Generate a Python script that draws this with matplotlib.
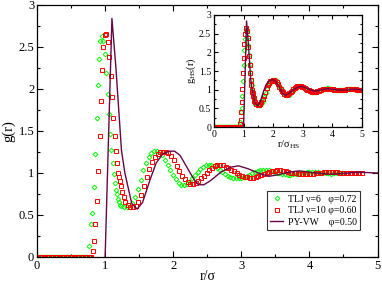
import matplotlib
matplotlib.use("agg")
import matplotlib.pyplot as plt
from matplotlib.ticker import MultipleLocator, FuncFormatter
import numpy as np

plt.rcParams['font.family'] = ['Liberation Serif', 'DejaVu Serif']
plt.rcParams['mathtext.fontset'] = 'custom'
plt.rcParams['mathtext.rm'] = 'Liberation Serif'
plt.rcParams['mathtext.it'] = 'Liberation Serif:italic'

# ---- TLJ nu=6, phi=0.72 (green diamonds) ----
green_zero_end = 0.76
green_r_peak = [0.77, 0.794, 0.814, 0.838, 0.858, 0.875, 0.89, 0.91, 0.93, 0.951,
                0.975, 0.995, 1.015, 1.035, 1.054, 1.072, 1.093, 1.113, 1.132, 1.152,
                1.167, 1.18, 1.19, 1.20, 1.22]
green_g_peak = [0.13, 0.39, 0.52, 0.83, 1.23, 1.65, 2.05, 2.36, 2.57, 2.63,
                2.57, 2.42, 2.19, 1.94, 1.70, 1.47, 1.27, 1.115, 0.99, 0.885,
                0.80, 0.745, 0.69, 0.66, 0.62]
green_tail_start = 1.24
green_g_tail = [0.61, 0.595, 0.59, 0.60, 0.64, 0.71, 0.81, 0.92, 1.03, 1.12,
                1.19, 1.235, 1.26, 1.265, 1.255, 1.22, 1.16, 1.10, 1.04, 0.98,
                0.925, 0.885, 0.86, 0.855, 0.87, 0.895, 0.935, 0.975, 1.015, 1.05,
                1.075, 1.09, 1.095, 1.09, 1.08, 1.06, 1.04, 1.015, 0.99, 0.97,
                0.955, 0.945, 0.94, 0.94, 0.945, 0.955, 0.965, 0.98, 0.995, 1.01,
                1.02, 1.03, 1.035, 1.035, 1.03, 1.025, 1.015, 1.005, 0.995, 0.99,
                0.985, 0.98, 0.98, 0.985, 0.99, 0.995, 1.0, 1.005, 1.01, 1.015,
                1.015, 1.015, 1.01, 1.005, 1.0, 0.995, 0.995, 0.99, 0.995, 0.995,
                1.0, 1.0]

# ---- TLJ nu=10, phi=0.60 (red squares) ----
red_zero_end = 0.80
red_r_peak = [0.819, 0.838, 0.858, 0.877, 0.895, 0.918, 0.937, 0.956, 0.975, 0.995,
              1.015, 1.035, 1.06, 1.08, 1.10, 1.12, 1.14, 1.157, 1.175, 1.19,
              1.205, 1.22, 1.235, 1.25, 1.27]
red_g_peak = [0.07, 0.19, 0.39, 0.67, 1.02, 1.44, 1.86, 2.23, 2.50, 2.64,
              2.66, 2.56, 2.38, 2.15, 1.90, 1.65, 1.44, 1.265, 1.12, 1.0,
              0.95, 0.91, 0.84, 0.77, 0.71]
red_tail_start = 1.29
red_g_tail = [0.66, 0.62, 0.595, 0.59, 0.61, 0.66, 0.74, 0.84, 0.95, 1.05,
              1.13, 1.185, 1.225, 1.245, 1.255, 1.255, 1.24, 1.20, 1.15, 1.08,
              1.025, 0.97, 0.925, 0.89, 0.87, 0.865, 0.875, 0.90, 0.935, 0.97,
              1.005, 1.04, 1.065, 1.085, 1.095, 1.095, 1.09, 1.075, 1.06, 1.04,
              1.02, 1.0, 0.98, 0.965, 0.955, 0.95, 0.945, 0.945, 0.95, 0.96,
              0.975, 0.99, 1.0, 1.01, 1.02, 1.025, 1.03, 1.03, 1.025, 1.02,
              1.01, 1.005, 1.0, 0.995, 0.99, 0.985, 0.985, 0.985, 0.985, 0.99,
              0.995, 1.0, 1.005, 1.01, 1.01, 1.015, 1.015, 1.01, 1.01, 1.005,
              1.0, 1.0, 0.995, 0.995, 0.995, 0.995, 1.0, 1.0]

# ---- PY-VW, phi=0.50 (line) ----
py_r = [1.0, 1.10, 1.157, 1.24, 1.29, 1.39, 1.47, 1.55, 1.66, 1.75, 1.85, 1.95,
        2.02, 2.10, 2.20, 2.30, 2.37, 2.45, 2.55, 2.70, 2.85, 2.96, 3.10, 3.25,
        3.40, 3.55, 3.70, 3.85, 4.00, 4.15, 4.30, 4.50, 4.70, 4.85, 5.0]
py_g = [0.0, 2.84, 2.27, 1.27, 1.0, 0.64, 0.57, 0.65, 0.92, 1.12, 1.23, 1.26,
        1.26, 1.21, 1.07, 0.93, 0.86, 0.86, 0.91, 1.01, 1.07, 1.085, 1.05, 1.0,
        0.96, 0.98, 1.01, 1.025, 1.01, 0.995, 0.985, 0.995, 1.01, 1.005, 1.0]

# sigma_HS / sigma used for the inset
ratio_green = 0.871
ratio_red = 0.93
ratio_py = 1.0

step = 0.04
zero_step = 0.02


def build(zero_end, r_peak, g_peak, tail_start, g_tail):
    rz = np.arange(0, zero_end + 1e-9, zero_step)
    rt = tail_start + step * np.arange(len(g_tail))
    r = np.concatenate([rz, r_peak, rt])
    g = np.concatenate([np.zeros(len(rz)), g_peak, g_tail])
    return r, g


rg, gg = build(green_zero_end, green_r_peak, green_g_peak, green_tail_start, green_g_tail)
rr, gr = build(red_zero_end, red_r_peak, red_g_peak, red_tail_start, red_g_tail)

green = '#00ff00'
red = '#ff0000'
maroon = '#670748'

fig = plt.figure(figsize=(3.82, 2.83), dpi=100)
ax = fig.add_axes([0.0969, 0.0919, 0.8914, 0.8905])

ms = 2.4
mew = 0.7
ax.plot(rg, gg, 'D', ms=ms, mfc='none', mec=green, mew=mew,
        label='TLJ \u03bd=6   \u03c6=0.72')
ax.plot(rr, gr, 's', ms=ms, mfc='none', mec=red, mew=mew,
        label='TLJ \u03bd=10 \u03c6=0.60')
ax.plot(py_r, py_g, '-', color=maroon, lw=1.0,
        label='PY-VW    \u03c6=0.50')

fmt = FuncFormatter(lambda v, p: '%g' % v)


def style(a, fs, maj, mino):
    a.xaxis.set_major_locator(MultipleLocator(1))
    a.xaxis.set_minor_locator(MultipleLocator(0.5))
    a.yaxis.set_major_locator(MultipleLocator(0.5))
    a.yaxis.set_minor_locator(MultipleLocator(0.25))
    a.xaxis.set_major_formatter(fmt)
    a.yaxis.set_major_formatter(fmt)
    a.tick_params(which='both', direction='in', top=True, right=True,
                  labelsize=fs, width=0.8, pad=2)
    a.tick_params(which='major', length=maj)
    a.tick_params(which='minor', length=mino)
    for s in a.spines.values():
        s.set_linewidth(0.9)


ax.set_xlim(0, 5)
ax.set_ylim(0, 3)
style(ax, 9, 4, 2)
ax.set_xlabel('r/\u03c3', fontsize=10, labelpad=-1)
ax.set_ylabel('g(r)', fontsize=10.5, labelpad=2)

leg = ax.legend(loc='lower right', bbox_to_anchor=(0.949, 0.107), borderaxespad=0,
                fontsize=7, frameon=True, fancybox=False, edgecolor='black',
                handlelength=1.3, handletextpad=0.5, borderpad=0.35,
                labelspacing=0.25, markerscale=1.0)
leg.get_frame().set_linewidth(0.8)

# inset
ins = fig.add_axes([0.5602, 0.5512, 0.3874, 0.3958])
ins.plot(rg / ratio_green, gg, 'D', ms=ms, mfc='none', mec=green, mew=mew)
ins.plot(rr / ratio_red, gr, 's', ms=ms, mfc='none', mec=red, mew=mew)
ins.plot(np.array(py_r) / ratio_py, py_g, '-', color=maroon, lw=1.0)
ins.set_xlim(0, 5)
ins.set_ylim(0, 3)
style(ins, 7, 3, 1.5)
ins.set_xlabel('r/\u03c3$_{\\mathrm{HS}}$', fontsize=7.5, labelpad=0)
ins.set_ylabel('g$_{\\mathrm{HS}}$(r)', fontsize=7.5, labelpad=1)

fig.savefig('out.png', dpi=100)
